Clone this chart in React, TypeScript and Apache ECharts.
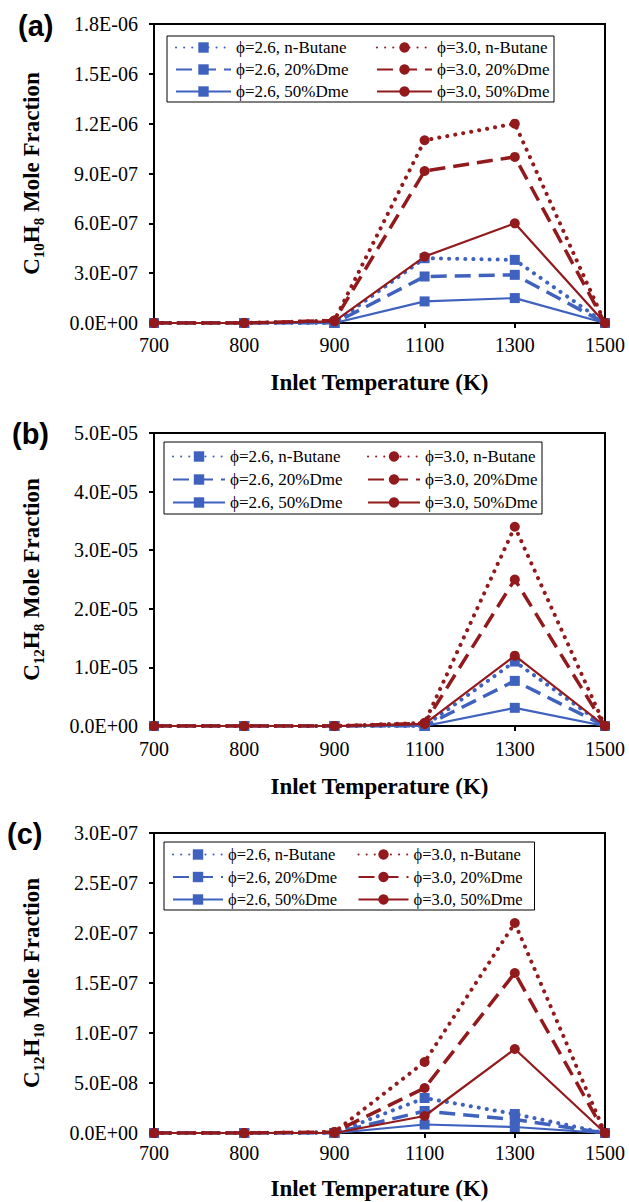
import React, { useEffect, useRef } from "react";
import * as echarts from "echarts";

// ---------- data ----------
const temperatures = ["700", "800", "900", "1100", "1300", "1500"];

const legendNames = [
  "ϕ=2.6, n-Butane",
  "ϕ=3.0, n-Butane",
  "ϕ=2.6, 20%Dme",
  "ϕ=3.0, 20%Dme",
  "ϕ=2.6, 50%Dme",
  "ϕ=3.0, 50%Dme",
];

// (a) C10H8
const a_phi26_nButane = [0, 0, 0, 3.9e-7, 3.8e-7, 0];
const a_phi26_20Dme = [0, 0, 0, 2.8e-7, 2.9e-7, 0];
const a_phi26_50Dme = [0, 0, 0, 1.3e-7, 1.5e-7, 0];
const a_phi30_nButane = [0, 0, 1.5e-8, 1.1e-6, 1.2e-6, 0];
const a_phi30_20Dme = [0, 0, 1.5e-8, 9.15e-7, 1.0e-6, 0];
const a_phi30_50Dme = [0, 0, 1.0e-8, 4.0e-7, 6.0e-7, 0];

// (b) C12H8
const b_phi26_nButane = [0, 0, 0, 0, 1.1e-5, 0];
const b_phi26_20Dme = [0, 0, 0, 0, 7.7e-6, 0];
const b_phi26_50Dme = [0, 0, 0, 0, 3.1e-6, 0];
const b_phi30_nButane = [0, 0, 0, 5.5e-7, 3.4e-5, 0];
const b_phi30_20Dme = [0, 0, 0, 4.5e-7, 2.5e-5, 0];
const b_phi30_50Dme = [0, 0, 0, 3.5e-7, 1.2e-5, 0];

// (c) C12H10
const c_phi26_nButane = [0, 0, 0, 3.5e-8, 1.9e-8, 0];
const c_phi26_20Dme = [0, 0, 0, 2.2e-8, 1.35e-8, 0];
const c_phi26_50Dme = [0, 0, 0, 8.5e-9, 6e-9, 0];
const c_phi30_nButane = [0, 0, 1e-9, 7.1e-8, 2.1e-7, 0];
const c_phi30_20Dme = [0, 0, 1e-9, 4.5e-8, 1.6e-7, 0];
const c_phi30_50Dme = [0, 0, 0, 1.7e-8, 8.4e-8, 0];

const yMaxA = 1.8e-6, yStepA = 3e-7;
const yMaxB = 5e-5, yStepB = 1e-5;
const yMaxC = 3e-7, yStepC = 5e-8;

// ---------- styling ----------
const BLUE = "#3f62bf";
const RED = "#921a1d";
const SERIF = "Liberation Serif";
const SANS = "Liberation Sans";

function sci(v: number): string {
  if (Math.abs(v) < 1e-30) return "0.0E+00";
  const [mant, exp] = v.toExponential(1).split("e");
  const e = parseInt(exp, 10);
  const sign = e < 0 ? "-" : "+";
  const abs = Math.abs(e);
  return `${mant}E${sign}${abs < 10 ? "0" + abs : abs}`;
}

const panels = [
  {
    tag: "(a)", tagX: 18, tagY: 28,
    top: 24, height: 299, max: yMaxA, step: yStepA,
    sub1: "10", sub2: "8",
    xNameGap: 48, xLabelMargin: 12,
    legend: { left: 167, top: 36, iw: 55, fs: 17, w1: 135, w2: 113, gap: 5, pad: [3, 4, 2, 8] },
    data: [a_phi26_nButane, a_phi26_20Dme, a_phi26_50Dme, a_phi30_nButane, a_phi30_20Dme, a_phi30_50Dme],
  },
  {
    tag: "(b)", tagX: 12, tagY: 436,
    top: 433, height: 293, max: yMaxB, step: yStepB,
    sub1: "12", sub2: "8",
    xNameGap: 49, xLabelMargin: 13,
    legend: { left: 164, top: 442, iw: 52, fs: 17, w1: 131, w2: 113, gap: 6, pad: [6, 4, 3, 8] },
    data: [b_phi26_nButane, b_phi26_20Dme, b_phi26_50Dme, b_phi30_nButane, b_phi30_20Dme, b_phi30_50Dme],
  },
  {
    tag: "(c)", tagX: 7, tagY: 836,
    top: 833, height: 300, max: yMaxC, step: yStepC,
    sub1: "12", sub2: "10",
    xNameGap: 44, xLabelMargin: 10,
    legend: { left: 164, top: 842, iw: 50, fs: 16.5, w1: 124, w2: 117, gap: 5.5, pad: [4, 4, 2, 8] },
    data: [c_phi26_nButane, c_phi26_20Dme, c_phi26_50Dme, c_phi30_nButane, c_phi30_20Dme, c_phi30_50Dme],
  },
];

const seriesDefs = [
  { name: legendNames[0], color: BLUE, symbol: "rect", dash: "dot" },
  { name: legendNames[2], color: BLUE, symbol: "rect", dash: "dash" },
  { name: legendNames[4], color: BLUE, symbol: "rect", dash: "solid" },
  { name: legendNames[1], color: RED, symbol: "circle", dash: "dot" },
  { name: legendNames[3], color: RED, symbol: "circle", dash: "dash" },
  { name: legendNames[5], color: RED, symbol: "circle", dash: "solid" },
];

function lineStyleFor(kind: string, color: string) {
  if (kind === "dot") return { color, width: 4, type: [0.1, 8], cap: "round" };
  if (kind === "dash") return { color, width: 3.5, type: [16, 8], cap: "butt" };
  return { color, width: 2.2, type: "solid" };
}

function buildOption() {
  const grid: any[] = [];
  const xAxis: any[] = [];
  const yAxis: any[] = [];
  const series: any[] = [];
  const legend: any[] = [];
  const graphic: any[] = [];

  panels.forEach((p, i) => {
    grid.push({
      left: 154, width: 451, top: p.top, height: p.height,
      show: true, borderColor: "#000", borderWidth: 2, backgroundColor: "transparent",
    });
    xAxis.push({
      type: "category", gridIndex: i, data: temperatures, boundaryGap: false,
      axisLine: { lineStyle: { color: "#000", width: 2 } },
      axisTick: { show: true, length: 5, lineStyle: { color: "#000", width: 2 } },
      axisLabel: { color: "#000", fontFamily: SERIF, fontSize: 20, margin: p.xLabelMargin },
      splitLine: { show: false },
      name: "Inlet Temperature (K)", nameLocation: "middle", nameGap: p.xNameGap,
      nameTextStyle: { color: "#000", fontFamily: SERIF, fontSize: 23, fontWeight: "bold" },
    });
    yAxis.push({
      type: "value", gridIndex: i, min: 0, max: p.max, interval: p.step,
      axisLine: { show: true, lineStyle: { color: "#000", width: 2 } },
      axisTick: { show: true, length: 5, lineStyle: { color: "#000", width: 2 } },
      axisLabel: { color: "#000", fontFamily: SERIF, fontSize: 20, margin: 16, formatter: (v: number) => sci(v) },
      splitLine: { show: false },
      name: `{m|C}{s|${p.sub1}}{m|H}{s|${p.sub2}}{m| Mole Fraction}`,
      nameLocation: "middle", nameRotate: 90, nameGap: 108,
      nameTextStyle: {
        color: "#000",
        fontFamily: SERIF,
        rich: {
          m: { fontFamily: SERIF, fontWeight: "bold", fontSize: 23, lineHeight: 30, color: "#000" },
          s: { fontFamily: SERIF, fontWeight: "bold", fontSize: 15, lineHeight: 15, verticalAlign: "bottom", color: "#000" },
        },
      },
    });
    seriesDefs.forEach((d, k) => {
      series.push({
        type: "line", name: d.name, xAxisIndex: i, yAxisIndex: i,
        data: p.data[k],
        symbol: d.symbol, symbolSize: 10,
        itemStyle: { color: d.color },
        lineStyle: lineStyleFor(d.dash, d.color),
        z: d.color === RED ? 3 : 2,
      });
    });
    const L = p.legend;
    legend.push({
      left: L.left, top: L.top, width: 420,
      orient: "horizontal",
      padding: L.pad,
      itemGap: L.gap,
      itemWidth: L.iw, itemHeight: 13,
      borderColor: "#000", borderWidth: 1, backgroundColor: "#fff",
      selectedMode: false,
      textStyle: { fontFamily: SERIF, fontSize: L.fs, color: "#000", lineHeight: 14 },
      data: legendNames.map((n, k) => ({
        name: n,
        textStyle: {
          fontFamily: SERIF, fontSize: L.fs, color: "#000", lineHeight: 14,
          width: k % 2 === 0 ? L.w1 : L.w2, overflow: "none",
        },
      })),
    });
    graphic.push({
      type: "text", left: p.tagX, top: p.tagY - 17,
      style: { text: p.tag, fontFamily: SANS, fontWeight: "bold", fontSize: 29, fill: "#000" },
    });
  });

  return {
    animation: false, backgroundColor: "#fff",
    textStyle: { fontFamily: SERIF },
    grid, xAxis, yAxis, series, legend, graphic,
  };
}

export default function App() {
  const ref = useRef<HTMLDivElement>(null);
  useEffect(() => {
    document.body.style.margin = "0";
    if (!ref.current) return;
    const chart = echarts.init(ref.current, null, { renderer: "svg" });
    chart.setOption(buildOption() as any);
    return () => chart.dispose();
  }, []);
  return <div ref={ref} style={{ width: 629, height: 1202 }} />;
}
